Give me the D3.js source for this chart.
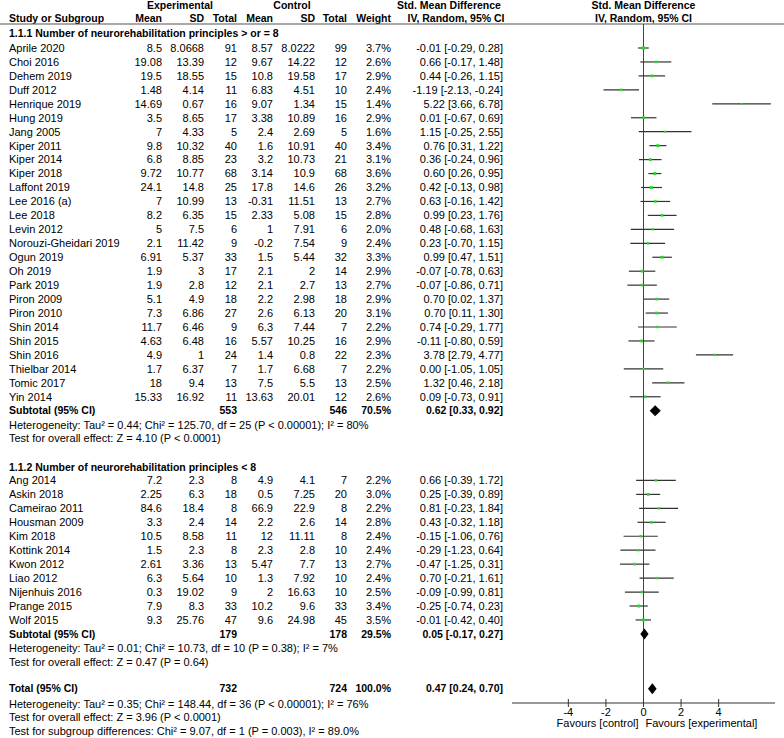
<!DOCTYPE html>
<html><head><meta charset="utf-8">
<script src="https://cdn.jsdelivr.net/npm/d3@7"></script>
<style>body{margin:0;background:#fff;} text{font-family:"Liberation Sans",Arial,sans-serif;}</style>
</head><body><svg id="c" width="784" height="738"></svg>
<script>
const studies1 = ["Aprile 2020","Choi 2016","Dehem 2019","Duff 2012","Henrique 2019","Hung 2019","Jang 2005","Kiper 2011","Kiper 2014","Kiper 2018","Laffont 2019","Lee 2016 (a)","Lee 2018","Levin 2012","Norouzi-Gheidari 2019","Ogun 2019","Oh 2019","Park 2019","Piron 2009","Piron 2010","Shin 2014","Shin 2015","Shin 2016","Thielbar 2014","Tomic 2017","Yin 2014"];
const expMean1 = ["8.5","19.08","19.5","1.48","14.69","3.5","7","9.8","6.8","9.72","24.1","7","8.2","5","2.1","6.91","1.9","1.9","5.1","7.3","11.7","4.63","4.9","1.7","18","15.33"];
const expSD1 = ["8.0668","13.39","18.55","4.14","0.67","8.65","4.33","10.32","8.85","10.77","14.8","10.99","6.35","7.5","11.42","5.37","3","2.8","4.9","6.86","6.46","6.48","1","6.37","9.4","16.92"];
const expN1 = [91,12,15,11,16,17,5,40,23,68,25,13,15,6,9,33,17,12,18,27,9,16,24,7,13,11];
const ctlMean1 = ["8.57","9.67","10.8","6.83","9.07","3.38","2.4","1.6","3.2","3.14","17.8","-0.31","2.33","1","-0.2","1.5","2.1","2.1","2.2","2.6","6.3","5.57","1.4","1.7","7.5","13.63"];
const ctlSD1 = ["8.0222","14.22","19.58","4.51","1.34","10.89","2.69","10.91","10.73","10.9","14.6","11.51","5.08","7.91","7.54","5.44","2","2.7","2.98","6.13","7.44","10.25","0.8","6.68","5.5","20.01"];
const ctlN1 = [99,12,17,10,15,16,5,40,21,68,26,13,15,6,9,32,14,13,18,20,7,16,22,7,13,12];
const weight1 = [3.7,2.6,2.9,2.4,1.4,2.9,1.6,3.4,3.1,3.6,3.2,2.7,2.8,2.0,2.4,3.3,2.9,2.7,2.9,3.1,2.2,2.9,2.3,2.2,2.5,2.6];
const smd1 = [-0.01,0.66,0.44,-1.19,5.22,0.01,1.15,0.76,0.36,0.60,0.42,0.63,0.99,0.48,0.23,0.99,-0.07,-0.07,0.70,0.70,0.74,-0.11,3.78,0.00,1.32,0.09];
const lo1 = [-0.29,-0.17,-0.26,-2.13,3.66,-0.67,-0.25,0.31,-0.24,0.26,-0.13,-0.16,0.23,-0.68,-0.70,0.47,-0.78,-0.86,0.02,0.11,-0.29,-0.80,2.79,-1.05,0.46,-0.73];
const hi1 = [0.28,1.48,1.15,-0.24,6.78,0.69,2.55,1.22,0.96,0.95,0.98,1.42,1.76,1.63,1.15,1.51,0.63,0.71,1.37,1.30,1.77,0.59,4.77,1.05,2.18,0.91];

const studies2 = ["Ang 2014","Askin 2018","Cameirao 2011","Housman 2009","Kim 2018","Kottink 2014","Kwon 2012","Liao 2012","Nijenhuis 2016","Prange 2015","Wolf 2015"];
const expMean2 = ["7.2","2.25","84.6","3.3","10.5","1.5","2.61","6.3","0.3","7.9","9.3"];
const expSD2 = ["2.3","6.3","18.4","2.4","8.58","2.3","3.36","5.64","19.02","8.3","25.76"];
const expN2 = [8,18,8,14,11,8,13,10,9,33,47];
const ctlMean2 = ["4.9","0.5","66.9","2.2","12","2.3","5.47","1.3","2","10.2","9.6"];
const ctlSD2 = ["4.1","7.25","22.9","2.6","11.11","2.8","7.7","7.92","16.63","9.6","24.98"];
const ctlN2 = [7,20,8,14,8,10,13,10,10,33,45];
const weight2 = [2.2,3.0,2.2,2.8,2.4,2.4,2.7,2.4,2.5,3.4,3.5];
const smd2 = [0.66,0.25,0.81,0.43,-0.15,-0.29,-0.47,0.70,-0.09,-0.25,-0.01];
const lo2 = [-0.39,-0.39,-0.23,-0.32,-1.06,-1.23,-1.25,-0.21,-0.99,-0.74,-0.42];
const hi2 = [1.72,0.89,1.84,1.18,0.76,0.64,0.31,1.61,0.81,0.23,0.40];

const groupTitles = ["1.1.1 Number of neurorehabilitation principles > or = 8","1.1.2 Number of neurorehabilitation principles < 8"];
const subtotalN = [[553,546,"70.5%"],[179,178,"29.5%"]];
const subtotalEst = [[0.62,0.33,0.92],[0.05,-0.17,0.27]];
const hetText = ["Heterogeneity: Tau² = 0.44; Chi² = 125.70, df = 25 (P < 0.00001); I² = 80%","Heterogeneity: Tau² = 0.01; Chi² = 10.73, df = 10 (P = 0.38); I² = 7%"];
const zText = ["Test for overall effect: Z = 4.10 (P < 0.0001)","Test for overall effect: Z = 0.47 (P = 0.64)"];
const totalN = [732,724,"100.0%"];
const totalEst = [0.47,0.24,0.70];
const totalHet = "Heterogeneity: Tau² = 0.35; Chi² = 148.44, df = 36 (P < 0.00001); I² = 76%";
const totalZ = "Test for overall effect: Z = 3.96 (P < 0.0001)";
const subgroupTest = "Test for subgroup differences: Chi² = 9.07, df = 1 (P = 0.003), I² = 89.0%";
const axisTicks = [-4,-2,0,2,4];
const favours = ["Favours [control]","Favours [experimental]"];

const svg = d3.select("#c");
const fs = 11, fsb = 10.5;
const fmt = v => (Math.abs(v) < 0.005 ? 0 : v).toFixed(2);
const ciStr = (e,l,h)=>`${fmt(e)} [${fmt(l)}, ${fmt(h)}]`;

const x = d3.scaleLinear().domain([-7,7]).range([512,775]);
const y = d3.scaleLinear().domain([0,49]).range([48,48+49*13.95]);
const col = {label:9, em:162, esd:204, en:237, cm:273, csd:315, cn:347, w:391, ci:503};

function txt(xp, yp, s, anchor, bold){
  return svg.append("text").attr("x",xp).attr("y",yp).attr("dy","0.35em")
    .attr("text-anchor",anchor||"start").attr("font-size",bold?fsb:fs)
    .attr("font-weight",bold?"bold":"normal").attr("fill","#000").text(s);
}

// Header
txt(180,5,"Experimental","middle",true);
txt(292,5,"Control","middle",true);
txt(449,5,"Std. Mean Difference","middle",true);
txt(456,18,"IV, Random, 95% CI","middle",true);
txt(x(0),5,"Std. Mean Difference","middle",true);
txt(x(0),18,"IV, Random, 95% CI","middle",true);
txt(col.label,18,"Study or Subgroup","start",true);
[["em","Mean"],["esd","SD"],["en","Total"],["cm","Mean"],["csd","SD"],["cn","Total"],["w","Weight"]]
  .forEach(([k,s])=>txt(col[k],18,s,"end",true));
svg.append("line").attr("x1",0).attr("x2",784).attr("y1",24).attr("y2",24).attr("stroke","#555").attr("stroke-width",1.2);

// zero line
svg.append("line").attr("x1",x(0)).attr("x2",x(0)).attr("y1",24).attr("y2",703).attr("stroke","#444").attr("stroke-width",1);

const groups = [
 {start:0, names:studies1, em:expMean1, esd:expSD1, en:expN1, cm:ctlMean1, csd:ctlSD1, cn:ctlN1, w:weight1, e:smd1, lo:lo1, hi:hi1},
 {start:31, names:studies2, em:expMean2, esd:expSD2, en:expN2, cm:ctlMean2, csd:ctlSD2, cn:ctlN2, w:weight2, e:smd2, lo:lo2, hi:hi2}
];

function diamond(yp, e, l, h){
  const hh = 5.5;
  svg.append("path").attr("d",`M${x(l)},${yp}L${x(e)},${yp-hh}L${x(h)},${yp}L${x(e)},${yp+hh}Z`).attr("fill","#000");
}

groups.forEach((g,gi)=>{
  const hy = gi===0 ? 33.5 : y(g.start-1)+0.5;
  txt(col.label, hy, groupTitles[gi], "start", true);
  g.names.forEach((n,i)=>{
    const yp = y(g.start+i);
    txt(col.label, yp, n);
    txt(col.em, yp, g.em[i], "end");
    txt(col.esd, yp, g.esd[i], "end");
    txt(col.en, yp, g.en[i], "end");
    txt(col.cm, yp, g.cm[i], "end");
    txt(col.csd, yp, g.csd[i], "end");
    txt(col.cn, yp, g.cn[i], "end");
    txt(col.w, yp, g.w[i].toFixed(1)+"%", "end");
    txt(col.ci, yp, ciStr(g.e[i],g.lo[i],g.hi[i]), "end");
    svg.append("line").attr("x1",x(g.lo[i])).attr("x2",x(g.hi[i])).attr("y1",yp).attr("y2",yp)
      .attr("stroke","#333").attr("stroke-width",1.2);
    const s = Math.sqrt(g.w[i])*1.6;
    svg.append("rect").attr("x",x(g.e[i])-s/2).attr("y",yp-s/2).attr("width",s).attr("height",s).attr("fill","#22dd22");
  });
  const sy = y(g.start+g.names.length);
  txt(col.label, sy, "Subtotal (95% CI)", "start", true);
  txt(col.en, sy, subtotalN[gi][0], "end", true);
  txt(col.cn, sy, subtotalN[gi][1], "end", true);
  txt(col.w, sy, subtotalN[gi][2], "end", true);
  txt(col.ci, sy, ciStr(...subtotalEst[gi]), "end", true);
  diamond(sy, ...subtotalEst[gi]);
  txt(col.label, sy+13.95, hetText[gi]);
  txt(col.label, sy+2*13.95, zText[gi]);
});

const ty = y(46)-1;
txt(col.label, ty, "Total (95% CI)", "start", true);
txt(col.en, ty, totalN[0], "end", true);
txt(col.cn, ty, totalN[1], "end", true);
txt(col.w, ty, totalN[2], "end", true);
txt(col.ci, ty, ciStr(...totalEst), "end", true);
diamond(ty, ...totalEst);
txt(col.label, y(47), totalHet);
txt(col.label, y(48), totalZ);
txt(col.label, y(49), subgroupTest);

// axis
const ay = 703;
const ag = svg.append("g").attr("transform",`translate(0,${ay})`);
ag.append("line").attr("x1",x(-7)).attr("x2",x(7)).attr("stroke","#333").attr("stroke-width",1.2);
ag.selectAll("line.t").data(axisTicks).enter().append("line").attr("class","t")
  .attr("x1",d=>x(d)).attr("x2",d=>x(d)).attr("y1",-4).attr("y2",4).attr("stroke","#333");
ag.selectAll("text.t").data(axisTicks).enter().append("text").attr("class","t")
  .attr("x",d=>x(d)).attr("y",9).attr("dy","0.35em").attr("text-anchor","middle").attr("font-size",fs).text(d=>String(d));
txt(x(0)-5, 723, favours[0], "end");
txt(x(0)+2, 723, favours[1], "start");
</script></body></html>
